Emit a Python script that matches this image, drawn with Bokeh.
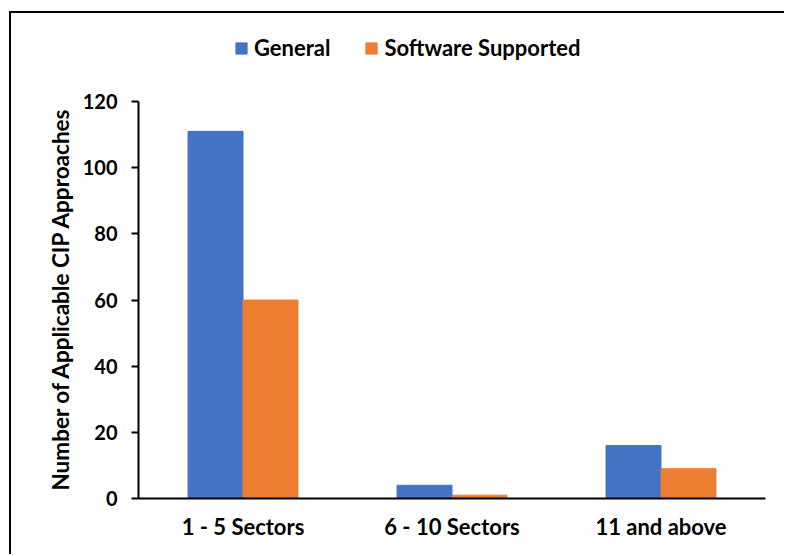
from bokeh.plotting import figure
from bokeh.models import ColumnDataSource, FactorRange, Range1d, Legend, LegendItem, FixedTicker, Title
from bokeh.transform import dodge
from bokeh.embed import file_html
from bokeh.resources import INLINE

categories = ["1 - 5 Sectors", "6 - 10 Sectors", "11 and above"]
general = [111, 4, 16]
software_supported = [60, 1, 9]
series_names = ["General", "Software Supported"]
y_ticks = [0, 20, 40, 60, 80, 100, 120]
y_label = "Number of Applicable CIP Approaches"
colors = ["#4472C4", "#ED7D31"]

FONT = "Lato"

source = ColumnDataSource(dict(cat=categories, general=general, software=software_supported))

# the frame reaches above 120 to leave room for the legend; the axis stops at 120
p = figure(
    x_range=FactorRange(*categories, range_padding=0),
    y_range=Range1d(0, 143),
    width=775, height=543,
    output_backend="svg", toolbar_location=None,
    min_border_left=127, min_border_right=21,
    min_border_top=12, min_border_bottom=58,
)
p.styles = {"margin-left": "9px", "margin-top": "11px",
            "border-left": "2px solid black", "border-top": "2px solid black"}

bw = 0.263
r1 = p.vbar(x=dodge("cat", -bw / 2, range=p.x_range), top="general", width=bw,
            source=source, fill_color=colors[0], line_color=colors[0])
r2 = p.vbar(x=dodge("cat", bw / 2, range=p.x_range), top="software", width=bw,
            source=source, fill_color=colors[1], line_color=colors[1])

p.grid.visible = False
p.outline_line_color = None

p.yaxis.bounds = (y_ticks[0], y_ticks[-1])
p.yaxis.ticker = FixedTicker(ticks=y_ticks)
p.yaxis.axis_line_color = "black"
p.yaxis.axis_line_width = 2
p.yaxis.major_tick_line_width = 2
p.yaxis.major_tick_line_color = "black"
p.yaxis.major_tick_out = 7
p.yaxis.major_tick_in = 0
p.yaxis.minor_tick_line_color = None
p.yaxis.major_label_standoff = 14
p.yaxis.major_label_text_font = FONT
p.yaxis.major_label_text_font_size = "20px"
p.yaxis.major_label_text_font_style = "bold"
p.yaxis.major_label_text_color = "black"

# y-axis title, starting near the bottom of the axis
p.add_layout(Title(text=y_label, align="left", offset=8, standoff=12,
                   text_font=FONT, text_font_size="22.5px", text_font_style="bold",
                   text_color="black"), "left")

p.xaxis.axis_line_color = "black"
p.xaxis.axis_line_width = 2
p.xaxis.major_tick_line_color = None
p.xaxis.minor_tick_line_color = None
p.xaxis.major_label_standoff = 8
p.xaxis.major_label_text_font = FONT
p.xaxis.major_label_text_font_size = "22px"
p.xaxis.major_label_text_font_style = "bold"
p.xaxis.major_label_text_color = "black"

legend = Legend(
    items=[LegendItem(label=series_names[0], renderers=[r1]),
           LegendItem(label=series_names[1], renderers=[r2])],
    orientation="horizontal",
    location=(96, 437),
    label_text_font=FONT,
    label_text_font_size="22px",
    label_text_font_style="bold",
    label_text_color="black",
    glyph_width=14, glyph_height=14,
    label_standoff=6,
    spacing=34,
    padding=0, margin=0,
    border_line_color=None,
    background_fill_alpha=0,
)
p.add_layout(legend, "center")

open("out.html", "w").write(file_html(p, INLINE))
